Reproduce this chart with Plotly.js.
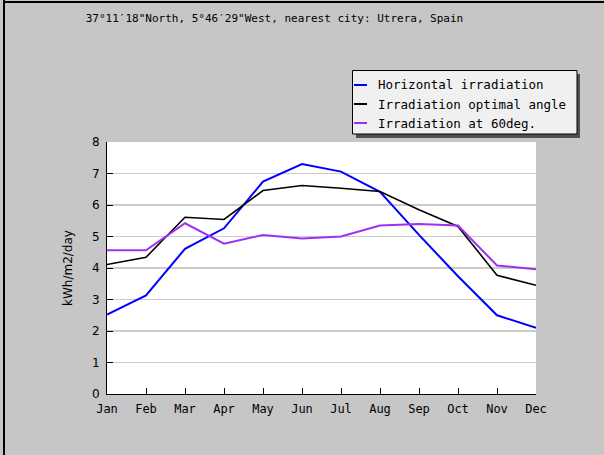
<!DOCTYPE html>
<html>
<head>
<meta charset="utf-8">
<script src="https://cdn.plot.ly/plotly-3.0.1.min.js"></script>
<style>
html,body{margin:0;padding:0;background:#c6c6c6;}
#wrap{position:relative;width:604px;height:455px;overflow:hidden;}
#chart{width:604px;height:455px;}
#bl{position:absolute;left:3px;top:0;width:2px;height:455px;background:#000;}
#bt{position:absolute;left:3px;top:1px;width:601px;height:2px;background:#000;}
</style>
</head>
<body>
<div id="wrap"><div id="chart"></div><div id="bl"></div><div id="bt"></div></div>
<script>
// Data
const months = ["Jan","Feb","Mar","Apr","May","Jun","Jul","Aug","Sep","Oct","Nov","Dec"];
const horizontal = [2.52, 3.13, 4.61, 5.26, 6.74, 7.30, 7.06, 6.42, 5.05, 3.74, 2.50, 2.10];
const optimal    = [4.11, 4.34, 5.61, 5.54, 6.46, 6.62, 6.53, 6.43, 5.85, 5.32, 3.77, 3.45];
const deg60      = [4.56, 4.56, 5.42, 4.77, 5.05, 4.94, 5.00, 5.35, 5.40, 5.35, 4.08, 3.96];
const seriesNames = ["Horizontal irradiation", "Irradiation optimal angle", "Irradiation at 60deg."];
const yTicks = [0,1,2,3,4,5,6,7,8];

const colors = ["#0000ff", "#000000", "#a030f0"];
const widths = [2, 1.6, 2];
const series = [horizontal, optimal, deg60];

// plot area in pixels
const L = 107, R = 536, T = 142, B = 394;
const px = x => (x - L) / (R - L);
const py = y => (B - y) / (B - T);

const traces = series.map((s, i) => ({
  x: months, y: s, type: "scatter", mode: "lines", name: seriesNames[i],
  line: {color: colors[i], width: widths[i]}, showlegend: false, hoverinfo: "skip"
}));

// custom legend
const shapes = [
  {type:"rect", xref:"paper", yref:"paper", x0:px(356), x1:px(580), y0:py(138), y1:py(74),
   fillcolor:"#505050", line:{width:0}, layer:"above"},
  {type:"rect", xref:"paper", yref:"paper", x0:px(352.5), x1:px(577), y0:py(134), y1:py(70.5),
   fillcolor:"#f0f0f0", line:{color:"#000", width:1}, layer:"above"}
];
const annotations = [];
const rowY = [85, 104, 123];
seriesNames.forEach((n, i) => {
  shapes.push({type:"line", xref:"paper", yref:"paper", x0:px(354), x1:px(367), y0:py(rowY[i]), y1:py(rowY[i]),
    line:{color:colors[i], width:2}, layer:"above"});
  annotations.push({xref:"paper", yref:"paper", x:px(376), y:py(rowY[i]), xanchor:"left", yanchor:"middle",
    text:n, showarrow:false, font:{family:"DejaVu Sans Mono", size:12.5, color:"#000"}});
});

const layout = {
  width: 604, height: 455,
  margin: {l: L, r: 604 - R, t: T, b: 455 - B, pad: 0},
  paper_bgcolor: "#c6c6c6", plot_bgcolor: "#ffffff",
  title: {text: "37°11′18\"North, 5°46′29\"West, nearest city: Utrera, Spain",
    x: 274.5/604, xref: "container", y: 1 - 18/455, yref: "container", xanchor: "center", yanchor: "middle",
    font: {family: "DejaVu Sans Mono", size: 11, color: "#000"}},
  xaxis: {type: "category", range: [0, 11], showgrid: false, zeroline: false,
    showline: true, linecolor: "#000", linewidth: 1,
    ticks: "inside", ticklen: 6, tickcolor: "#000", tickwidth: 1,
    tickfont: {family: "DejaVu Sans Mono", size: 12, color: "#000"}, ticklabelstandoff: 4,
    fixedrange: true},
  yaxis: {range: [0, 8], tickvals: yTicks, showgrid: true, gridcolor: "#cccccc", gridwidth: 1.5,
    zeroline: false, showline: true, linecolor: "#000", linewidth: 1,
    ticks: "inside", ticklen: 6, tickcolor: "#000", tickwidth: 1,
    tickfont: {family: "DejaVu Sans", size: 12, color: "#000"}, ticklabelstandoff: 4,
    title: {text: "kWh/m2/day", font: {family: "DejaVu Sans", size: 12, color: "#000"}, standoff: 16},
    fixedrange: true},
  shapes: shapes, annotations: annotations, showlegend: false
};

Plotly.newPlot("chart", traces, layout, {displayModeBar: false, staticPlot: true});
</script>
</body>
</html>
